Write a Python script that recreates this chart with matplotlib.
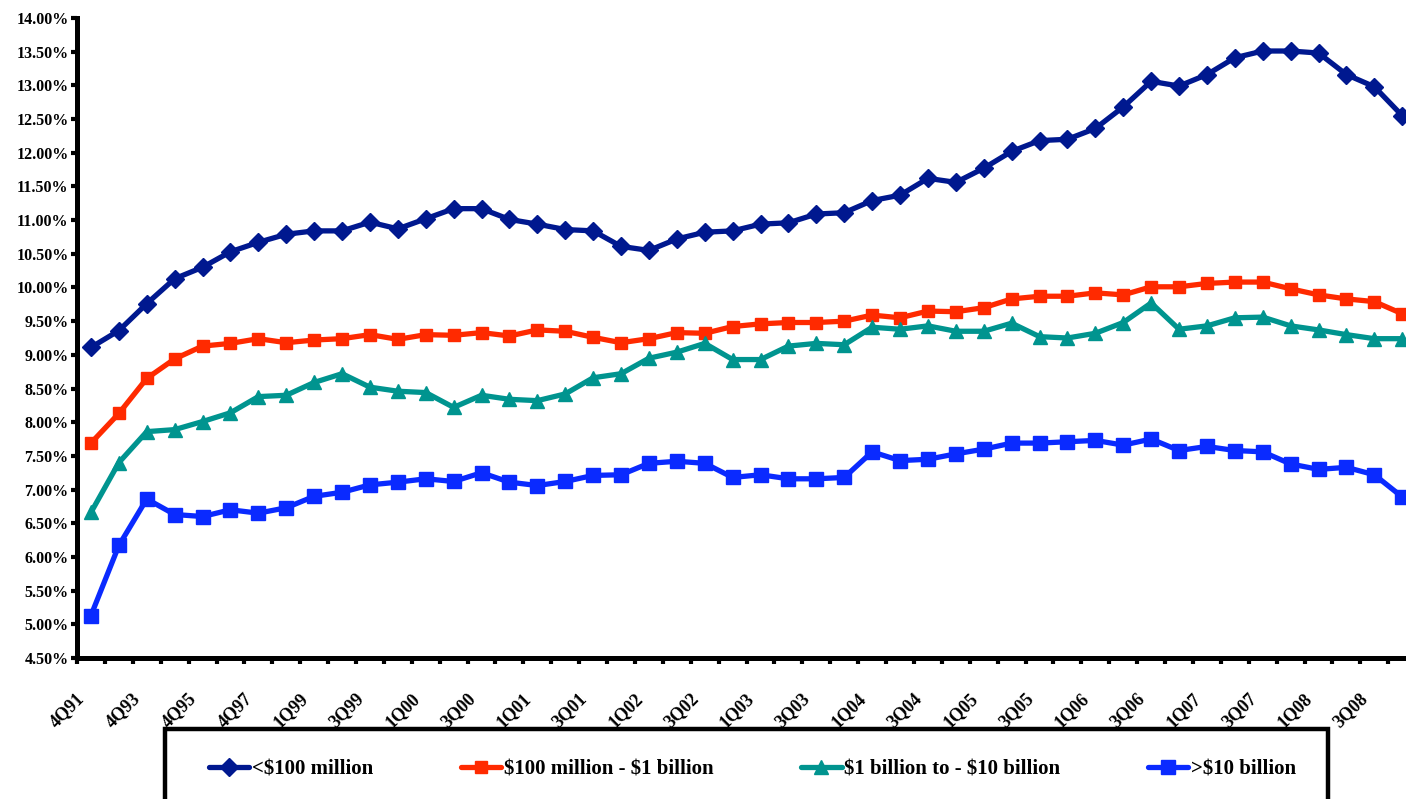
import numpy as np
import matplotlib
matplotlib.use("Agg")
import matplotlib.pyplot as plt
from matplotlib.patches import Rectangle
from matplotlib.transforms import ScaledTranslation

quarters = ["4Q91", "4Q92", "4Q93", "4Q94", "4Q95", "4Q96", "4Q97", "4Q98"]
for yr in ["99", "00", "01", "02", "03", "04", "05", "06", "07", "08"]:
    for q in ["1", "2", "3", "4"]:
        quarters.append(q + "Q" + yr)

under_100m = [9.11, 9.36, 9.76, 10.13, 10.30, 10.53, 10.67, 10.79, 10.84, 10.84,
              10.97, 10.87, 11.02, 11.17, 11.17, 11.01, 10.94, 10.86, 10.84, 10.61,
              10.55, 10.72, 10.82, 10.84, 10.94, 10.96, 11.09, 11.11, 11.29, 11.37,
              11.62, 11.56, 11.77, 12.02, 12.18, 12.20, 12.36, 12.68, 13.06, 12.99,
              13.16, 13.41, 13.51, 13.51, 13.48, 13.16, 12.98, 12.55]
m100_to_1b = [7.69, 8.13, 8.65, 8.94, 9.13, 9.17, 9.24, 9.18, 9.22, 9.24,
              9.30, 9.23, 9.30, 9.29, 9.33, 9.28, 9.37, 9.35, 9.26, 9.18,
              9.24, 9.33, 9.32, 9.42, 9.46, 9.48, 9.48, 9.50, 9.59, 9.55,
              9.65, 9.64, 9.70, 9.83, 9.87, 9.87, 9.92, 9.89, 10.01, 10.01,
              10.06, 10.08, 10.08, 9.98, 9.89, 9.83, 9.79, 9.61]
b1_to_10b = [6.66, 7.40, 7.86, 7.89, 8.01, 8.14, 8.38, 8.40, 8.59, 8.72,
             8.52, 8.46, 8.44, 8.22, 8.40, 8.34, 8.32, 8.42, 8.66, 8.72,
             8.95, 9.04, 9.17, 8.93, 8.93, 9.13, 9.17, 9.15, 9.41, 9.38,
             9.43, 9.35, 9.35, 9.47, 9.27, 9.25, 9.32, 9.48, 9.77, 9.38,
             9.43, 9.55, 9.56, 9.43, 9.37, 9.30, 9.24, 9.24]
over_10b = [5.13, 6.17, 6.86, 6.63, 6.60, 6.70, 6.65, 6.73, 6.90, 6.96,
            7.07, 7.11, 7.16, 7.12, 7.25, 7.11, 7.06, 7.12, 7.21, 7.22,
            7.39, 7.42, 7.39, 7.18, 7.22, 7.16, 7.16, 7.18, 7.56, 7.43,
            7.45, 7.53, 7.60, 7.69, 7.69, 7.71, 7.73, 7.66, 7.75, 7.58,
            7.64, 7.58, 7.56, 7.38, 7.30, 7.33, 7.22, 6.89]

series = [
    (r"<\$100 million", under_100m, "#00188F", "D", 9),
    (r"\$100 million - \$1 billion", m100_to_1b, "#FF2A00", "s", 9),
    (r"\$1 billion to - \$10 billion", b1_to_10b, "#00948F", "^", 10),
    (r">\$10 billion", over_10b, "#0A2AFF", "s", 9.5),
]

plt.rcParams["font.family"] = ["Liberation Serif", "DejaVu Serif"]
plt.rcParams["font.weight"] = "bold"

W, H = 1406, 799
fig = plt.figure(figsize=(W / 100, H / 100), dpi=100)
# axes runs past the right edge like the original (cropped export)
ax = fig.add_axes([77 / W, 1 - 658 / H, 48 * 27.9 / W, 640 / H])

x = np.arange(len(quarters))
for name, vals, col, mk, ms in series:
    ax.plot(x, vals, color=col, lw=3.8, marker=mk, ms=ms,
            markeredgecolor=col, label=name, solid_capstyle="round")

ax.set_xlim(-0.5, len(quarters) - 0.5)
ax.set_ylim(4.5, 14.0)
ax.set_yticks(np.arange(4.5, 14.01, 0.5))
ax.set_yticklabels(["%.2f%%" % v for v in np.arange(4.5, 14.01, 0.5)],
                   fontsize=11.5, fontweight="bold")

ax.set_xticks(x[::2])
ax.set_xticklabels(quarters[::2], rotation=45, ha="right", va="center",
                   rotation_mode="anchor", fontsize=13, fontweight="bold")
ax.set_xticks(np.arange(-0.5, len(quarters), 1), minor=True)
ax.tick_params(axis="x", which="major", length=0, pad=27)
ax.tick_params(axis="x", which="minor", length=4, width=3, direction="out")
ax.tick_params(axis="y", length=4, width=3, direction="out", pad=2)
off = ScaledTranslation(-9 / 100, 0, fig.dpi_scale_trans)
for lbl in ax.get_xticklabels():
    lbl.set_transform(lbl.get_transform() + off)

for s in ["top", "right"]:
    ax.spines[s].set_visible(False)
for s in ["left", "bottom"]:
    ax.spines[s].set_linewidth(3.6)
    ax.spines[s].set_color("black")

# legend box, bottom edge falls outside the picture
fig.patches.append(Rectangle((165 / W, -0.05), (1328 - 165) / W, 0.05 + (799 - 729) / H,
                             transform=fig.transFigure, fill=False,
                             edgecolor="black", lw=3.2))
fig.legend(loc="center left", bbox_to_anchor=(190 / W, 1 - 769 / H), ncol=4,
           frameon=False, numpoints=1, handlelength=1.95, handletextpad=0.12,
           columnspacing=4.2, prop={"family": "Liberation Serif", "weight": "bold", "size": 15})

fig.savefig("out.png", dpi=100)
